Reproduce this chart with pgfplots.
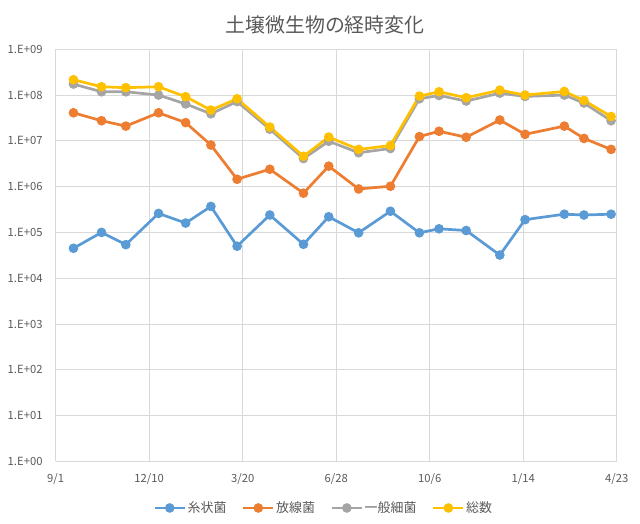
\documentclass[border=0pt]{standalone}
\usepackage{pgfplots}
\pgfplotsset{compat=1.18}
\usepackage{fontspec}
\setmainfont{Noto Sans CJK JP}
\definecolor{cBlue}{HTML}{5B9BD5}
\definecolor{cOrange}{HTML}{ED7D31}
\definecolor{cGray}{HTML}{A5A5A5}
\definecolor{cYellow}{HTML}{FFC000}
\definecolor{txt}{HTML}{595959}
\definecolor{gridc}{HTML}{D9D9D9}
\pgfplotstableread{
d blue orange gray yellow
19  4.5e4  4.1e7   1.74e8 2.16e8
49  1.0e5  2.75e7  1.18e8 1.52e8
75  5.4e4  2.1e7   1.18e8 1.45e8
110 2.6e5  4.1e7   1.0e8  1.52e8
139 1.6e5  2.5e7   6.4e7  9.2e7
166 3.7e5  8.1e6   3.9e7  4.7e7
194 5.0e4  1.45e6  7.2e7  8.3e7
229 2.4e5  2.4e6   1.8e7  2.0e7
265 5.5e4  7.2e5   4.1e6  4.6e6
292 2.2e5  2.8e6   9.8e6  1.21e7
324 9.8e4  8.9e5   5.5e6  6.5e6
358 2.9e5  1.02e6  6.8e6  7.9e6
389 9.8e4  1.24e7  8.3e7  9.5e7
410 1.2e5  1.62e7  9.8e7  1.18e8
439 1.1e5  1.2e7   7.4e7  8.75e7
475 3.2e4  2.85e7  1.1e8  1.28e8
502 1.9e5  1.39e7  9.35e7 1.0e8
544 2.5e5  2.1e7   1.0e8  1.2e8
565 2.4e5  1.13e7  6.7e7  7.65e7
594 2.5e5  6.5e6   2.75e7 3.4e7
}\datatable
\begin{document}
\begin{tikzpicture}
\path[use as bounding box] (0,0) rectangle (640bp,524bp);
\node[font=\fontsize{20}{24}\selectfont, text=txt] at (325bp,499bp) {土壌微生物の経時変化};
\begin{axis}[
  at={(55.7bp,62.7bp)}, anchor=south west,
  scale only axis, width=561bp, height=412bp,
  ymode=log, ymin=1, ymax=1e9,
  xmin=0, xmax=600,
  xtick={0,100,200,300,400,500,600},
  xticklabels={9/1,12/10,3/20,6/28,10/6,1/14,4/23},
  ytick={1,1e1,1e2,1e3,1e4,1e5,1e6,1e7,1e8,1e9},
  yticklabels={1.E+00,1.E+01,1.E+02,1.E+03,1.E+04,1.E+05,1.E+06,1.E+07,1.E+08,1.E+09},
  minor ytick={}, 
  grid=major,
  major grid style={draw=gridc, line width=0.8bp},
  axis line style={draw=none},
  tick style={draw=none},
  ticklabel style={font=\fontsize{11.3}{13}\selectfont, text=txt},
  yticklabel style={anchor=east, inner sep=0pt, xshift=-13bp},
  xticklabel style={anchor=center, inner sep=0pt, yshift=-17.7bp},
  legend columns=4,
  legend style={at={(axis description cs:0.4774,-0.1133)}, anchor=center,
    draw=none, fill=none, font=\fontsize{13}{15}\selectfont, text=txt,
    nodes={inner sep=1.5bp},
    /tikz/every even column/.append style={column sep=14bp}},
  legend image code/.code={\draw[mark repeat=2,mark phase=2] plot coordinates {(0bp,0bp) (15bp,0bp) (30bp,0bp)};},
  every axis plot/.append style={line width=2.7bp, mark=*, mark size=3.4bp, mark options={solid}},
]
\addplot[color=cBlue] table[x=d,y=blue]{\datatable};
\addlegendentry{糸状菌}
\addplot[color=cOrange] table[x=d,y=orange]{\datatable};
\addlegendentry{放線菌}
\addplot[color=cGray] table[x=d,y=gray]{\datatable};
\addlegendentry{一般細菌}
\addplot[color=cYellow] table[x=d,y=yellow]{\datatable};
\addlegendentry{総数}
\end{axis}
\end{tikzpicture}
\end{document}
